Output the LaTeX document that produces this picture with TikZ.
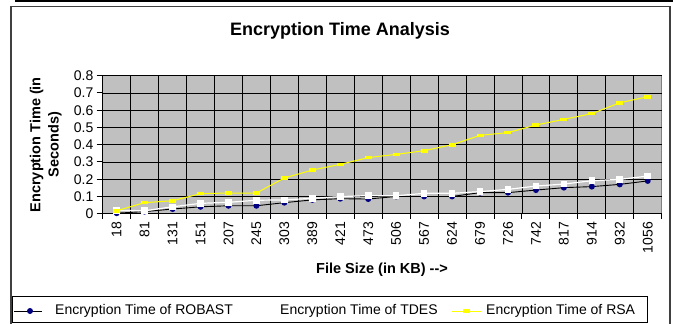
\documentclass[tikz,border=0pt]{standalone}
\usepackage{fontspec}
\setmainfont{Liberation Sans}
\definecolor{plotgray}{HTML}{C0C0C0}
\definecolor{bordergray}{HTML}{808080}
\definecolor{navyblue}{HTML}{000080}
\definecolor{rsayellow}{HTML}{FFFF00}
\begin{document}
\begin{tikzpicture}[x=1pt,y=-1pt,
  ticklabel/.style={font=\fontsize{14}{16}\selectfont, inner sep=0pt},
  axtitle/.style={font=\fontsize{14.5}{18.3}\selectfont\bfseries, inner sep=0pt, align=center},
  legendtext/.style={font=\fontsize{14}{16}\selectfont, inner sep=0pt, anchor=west},
  gridline/.style={black, line width=0.9pt},
  axisline/.style={black, line width=1pt}]
\useasboundingbox (0,0) rectangle (673,324);
% top bar and chart frame
\fill[black] (15,0) rectangle (673,2.3);
\draw[black!75, line width=1.6pt] (10.8,6.6) rectangle (670.2,345);
% title
\node[font=\fontsize{18}{20}\selectfont\bfseries, inner sep=0pt] (title) at (340,31) {Encryption Time Analysis};
% plot area
\fill[plotgray] (102.7,75.7) rectangle (661.7,213.7);
\draw[bordergray, line width=1pt] (102.7,75.7) rectangle (661.7,213.7);
\foreach \k in {1,...,8} \draw[gridline] (102.7,{213.7-17.25*\k}) -- (661.7,{213.7-17.25*\k});
\foreach \k in {1,...,19} \draw[gridline] ({102.7+27.95*\k},75.7) -- ({102.7+27.95*\k},213.7);
% axes and ticks
\draw[axisline] (102.7,75.7) -- (102.7,213.7) -- (661.7,213.7);
\foreach \k in {0,...,8} \draw[axisline] (96.7,{213.7-17.25*\k}) -- (102.7,{213.7-17.25*\k});
\foreach \k in {0,...,20} \draw[axisline] ({102.7+27.95*\k},213.7) -- ({102.7+27.95*\k},218.5);
% y tick labels
\foreach \lab [count=\k from 0] in {0,0.1,0.2,0.3,0.4,0.5,0.6,0.7,0.8}
  \node[ticklabel, anchor=east] (ylab\k) at (93.5,{213.7-17.25*\k}) {\lab};
% x tick labels
\foreach \lab [count=\k from 0] in {18,81,131,151,207,245,303,389,421,473,506,567,624,679,726,742,817,914,932,1056}
  \node[ticklabel, anchor=east, rotate=90] (xlab\k) at ({102.7+27.95*(\k+0.5)},222) {\lab};
% axis titles
\node[axtitle, rotate=90] (ytitle) at (45.8,144.7) {Encryption Time (in\\Seconds)};
\node[axtitle] (xtitle) at (382,270) {File Size (in KB) -{}->};
% data series
\begin{scope}[shift={(116.675,213.7)}, x=27.95pt, y=172.5pt]
  \draw[black, line width=0.9pt] plot coordinates {(0,0.003) (1,0.012) (2,0.027) (3,0.04) (4,0.046) (5,0.046) (6,0.064) (7,0.08) (8,0.087) (9,0.085) (10,0.1) (11,0.1) (12,0.1) (13,0.122) (14,0.122) (15,0.137) (16,0.151) (17,0.157) (18,0.17) (19,0.19)};
  \foreach \v [count=\i from 0] in {0.003,0.012,0.027,0.04,0.046,0.046,0.064,0.08,0.087,0.085,0.1,0.1,0.1,0.122,0.122,0.137,0.151,0.157,0.17,0.19}
    \fill[navyblue] (\i,\v) circle[radius=3pt];
  \draw[white, line width=1.2pt] plot coordinates {(0,0.02) (1,0.017) (2,0.04) (3,0.06) (4,0.066) (5,0.078) (6,0.08) (7,0.089) (8,0.099) (9,0.105) (10,0.104) (11,0.118) (12,0.118) (13,0.128) (14,0.141) (15,0.16) (16,0.172) (17,0.191) (18,0.199) (19,0.218)};
  \foreach \v [count=\i from 0] in {0.02,0.017,0.04,0.06,0.066,0.078,0.08,0.089,0.099,0.105,0.104,0.118,0.118,0.128,0.141,0.16,0.172,0.191,0.199,0.218}
    \fill[white] (\i,\v) +(-3.3pt,-3.3pt) rectangle +(3.3pt,3.3pt);
  \draw[rsayellow, line width=1pt] plot coordinates {(0,0.017) (1,0.064) (2,0.075) (3,0.116) (4,0.12) (5,0.12) (6,0.207) (7,0.253) (8,0.286) (9,0.325) (10,0.344) (11,0.365) (12,0.40) (13,0.454) (14,0.47) (15,0.514) (16,0.547) (17,0.58) (18,0.643) (19,0.678)};
  \foreach \v [count=\i from 0] in {0.017,0.064,0.075,0.116,0.12,0.12,0.207,0.253,0.286,0.325,0.344,0.365,0.40,0.454,0.47,0.514,0.547,0.58,0.643,0.678}
    \fill[rsayellow] (\i,\v) +(-3.5pt,-1.8pt) rectangle +(3.5pt,1.8pt);
\end{scope}
% legend
\draw[black, line width=1pt] (12,296.7) rectangle (647,322.3);
\draw[black, line width=0.9pt] (14,311) -- (42,311);
\fill[navyblue] (30,311) circle[radius=3pt];
\node[legendtext] (leg1) at (55,311) {Encryption Time of ROBAST};
\node[legendtext] (leg2) at (280,311) {Encryption Time of TDES};
\draw[rsayellow, line width=1pt] (452,311) -- (481,311);
\fill[rsayellow] (463,309.2) rectangle (470,312.8);
\node[legendtext] (leg3) at (486,311) {Encryption Time of RSA};
\end{tikzpicture}
\end{document}
